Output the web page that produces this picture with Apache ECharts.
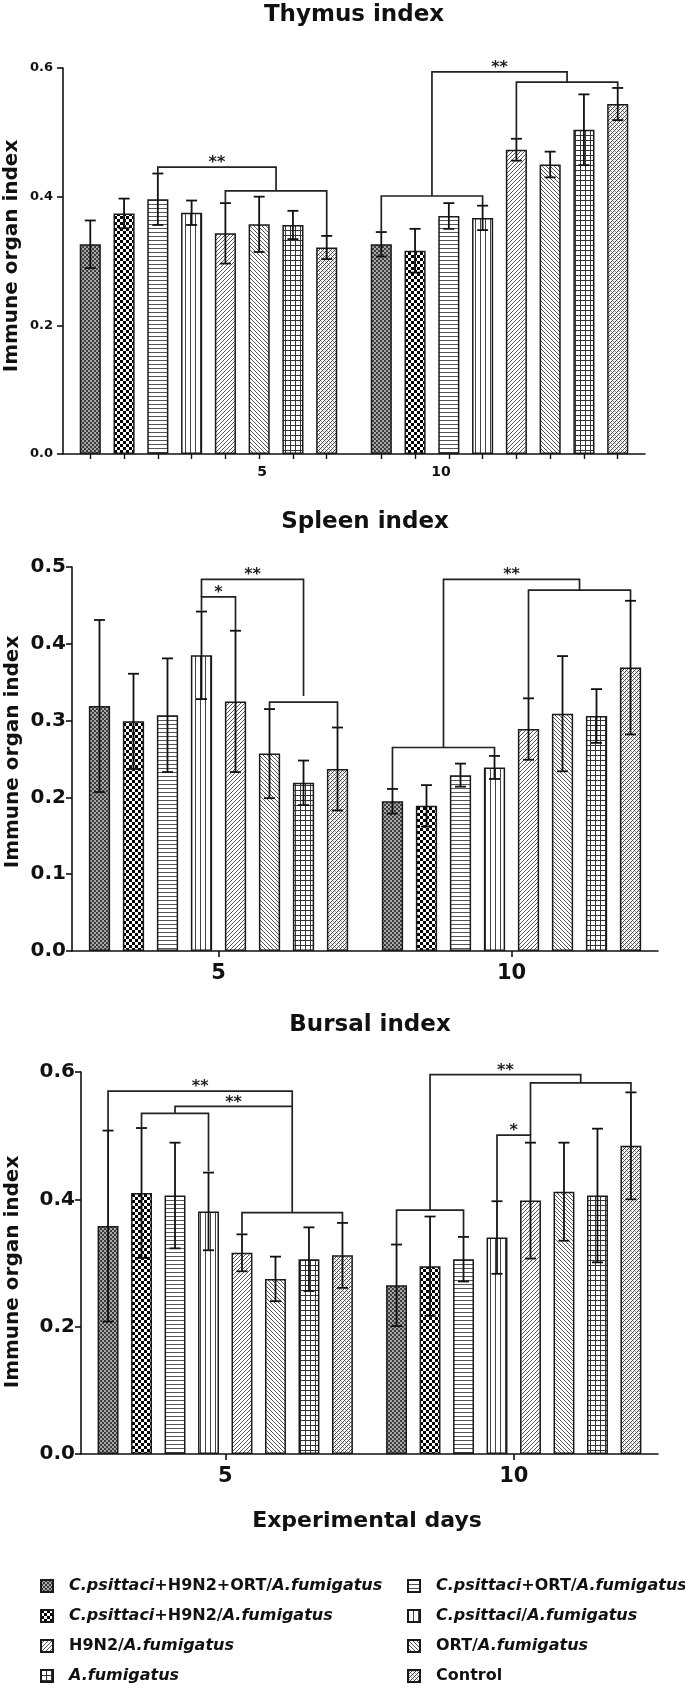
<!DOCTYPE html>
<html>
<head>
<meta charset="utf-8">
<script src="https://cdn.jsdelivr.net/npm/echarts@6/dist/echarts.min.js"></script>
<style>
html,body{margin:0;padding:0;background:#fff;}
#chart{width:685px;height:1689px;}
</style>
</head>
<body>
<div id="chart"></div>
<script>
// ---------------- DATA ----------------
const groupNames = [
  'C.psittaci+H9N2+ORT/A.fumigatus',
  'C.psittaci+H9N2/A.fumigatus',
  'C.psittaci+ORT/A.fumigatus',
  'C.psittaci/A.fumigatus',
  'H9N2/A.fumigatus',
  'ORT/A.fumigatus',
  'A.fumigatus',
  'Control'
];
const dayLabels = ['5', '10'];

const thymusMean5  = [0.326, 0.374, 0.396, 0.375, 0.343, 0.357, 0.356, 0.321];
const thymusSd5    = [0.037, 0.023, 0.040, 0.019, 0.047, 0.043, 0.022, 0.018];
const thymusMean10 = [0.326, 0.316, 0.370, 0.367, 0.473, 0.450, 0.504, 0.544];
const thymusSd10   = [0.019, 0.034, 0.020, 0.019, 0.017, 0.020, 0.055, 0.025];

const spleenMean5  = [0.319, 0.299, 0.307, 0.385, 0.325, 0.257, 0.219, 0.237];
const spleenSd5    = [0.112, 0.062, 0.074, 0.057, 0.092, 0.058, 0.029, 0.054];
const spleenMean10 = [0.195, 0.189, 0.229, 0.239, 0.289, 0.309, 0.306, 0.369];
const spleenSd10   = [0.016, 0.027, 0.015, 0.015, 0.040, 0.075, 0.035, 0.087];

const bursalMean5  = [0.358, 0.410, 0.406, 0.381, 0.316, 0.275, 0.306, 0.312];
const bursalSd5    = [0.150, 0.102, 0.083, 0.061, 0.029, 0.035, 0.050, 0.051];
const bursalMean10 = [0.265, 0.295, 0.306, 0.340, 0.398, 0.412, 0.406, 0.484];
const bursalSd10   = [0.064, 0.078, 0.035, 0.057, 0.091, 0.077, 0.105, 0.084];

// significance brackets: [fromBarSlot, toBarSlot, level, leftDropTo, rightDropTo, mark]
// bar slot = day index * 8 + group index (fractional = midpoint of a lower bracket)
const thymusBrackets = [
  [2, 5.5, 0.446, 0.435, 0.409, '**'],
  [4, 7, 0.409, 0.391, 0.340, ''],
  [8, 11, 0.401, 0.346, 0.386, ''],
  [9.5, 13.5, 0.594, 0.401, 0.578, '**'],
  [12, 15, 0.578, 0.490, 0.569, '']
];
const spleenBrackets = [
  [3, 4, 0.461, 0.443, 0.418, '*'],
  [3, 6, 0.484, 0.461, 0.332, '**'],
  [5, 7, 0.324, 0.315, 0.290, ''],
  [8, 11, 0.265, 0.212, 0.254, ''],
  [9.5, 13.5, 0.484, 0.265, 0.470, '**'],
  [12, 15, 0.470, 0.329, 0.457, '']
];
const bursalBrackets = [
  [0, 5.5, 0.570, 0.509, 0.546, '**'],
  [2, 5.5, 0.546, 0.535, 0.379, '**'],
  [1, 3, 0.535, 0.512, 0.444, ''],
  [4, 7, 0.379, 0.346, 0.364, ''],
  [8, 10, 0.383, 0.329, 0.341, ''],
  [9, 13.5, 0.596, 0.383, 0.583, '**'],
  [12, 15, 0.583, 0.501, 0.569, ''],
  [11, 12, 0.501, 0.397, 0.490, '*']
];

// ---------------- STYLE / LAYOUT ----------------
const FONT = '"DejaVu Sans", "Liberation Sans", Arial, sans-serif';
const BAR_CAT_GAP = 0.115, BAR_GAP = 0.6, N = 8;
const slotU = (1 - BAR_CAT_GAP) * (1 + BAR_GAP) / (N + (N - 1) * BAR_GAP);
function slotX(s) { const g = s < 8 ? 0 : 1; return g + 0.5 + (s - g * 8 - 3.5) * slotU; }

function tile(w, h, draw) {
  const c = document.createElement('canvas');
  c.width = w; c.height = h;
  const ctx = c.getContext('2d');
  ctx.fillStyle = '#fff'; ctx.fillRect(0, 0, w, h);
  draw(ctx);
  return { image: c, repeat: 'repeat' };
}
function px(ctx, x, y, col) { ctx.fillStyle = col; ctx.fillRect(x, y, 1, 1); }
const patterns = [
  tile(4, 4, ctx => { for (let y = 0; y < 4; y++) for (let x = 0; x < 4; x++) px(ctx, x, y, ((x >> 1) + (y >> 1)) % 2 ? '#a8a8a8' : '#3c3c3c'); }),
  tile(6, 6, ctx => { ctx.fillStyle = '#000'; ctx.fillRect(0, 0, 3, 3); ctx.fillRect(3, 3, 3, 3); }),
  tile(4, 4, ctx => { ctx.fillStyle = '#555'; ctx.fillRect(0, 0, 4, 1); }),
  tile(5, 5, ctx => { ctx.fillStyle = '#444'; ctx.fillRect(0, 0, 1, 5); }),
  tile(4, 4, ctx => { for (let i = 0; i < 4; i++) px(ctx, 3 - i, i, '#555'); }),
  tile(4, 4, ctx => { for (let i = 0; i < 4; i++) px(ctx, i, i, '#555'); }),
  tile(5, 5, ctx => { ctx.fillStyle = '#333'; ctx.fillRect(0, 0, 5, 1); ctx.fillRect(0, 0, 1, 5); }),
  tile(4, 4, ctx => { for (let y = 0; y < 4; y++) for (let x = 0; x < 4; x++) { if ((x + y) % 4 === 0) px(ctx, x, y, '#444'); else if ((x - y + 4) % 4 === 0) px(ctx, x, y, '#999'); } })
];

const charts = [
  { mean: [thymusMean5, thymusMean10], sd: [thymusSd5, thymusSd10], brackets: thymusBrackets,
    grid: { left: 63, top: 68, width: 582, height: 386 }, max: 0.6, interval: 0.2,
    title: 'Thymus index', titleX: 354, titleY: 15, nameX: 12, nameY: 256, tickFont: 13, small: true },
  { mean: [spleenMean5, spleenMean10], sd: [spleenSd5, spleenSd10], brackets: spleenBrackets,
    grid: { left: 72, top: 567, width: 586, height: 384 }, max: 0.5, interval: 0.1,
    title: 'Spleen index', titleX: 365, titleY: 522, nameX: 13, nameY: 752, tickFont: 20, small: false },
  { mean: [bursalMean5, bursalMean10], sd: [bursalSd5, bursalSd10], brackets: bursalBrackets,
    grid: { left: 81, top: 1072, width: 577, height: 382 }, max: 0.6, interval: 0.2,
    title: 'Bursal index', titleX: 370, titleY: 1025, nameX: 13, nameY: 1272, tickFont: 20, small: false }
];

const grids = [], xAxes = [], yAxes = [], series = [], graphics = [];
charts.forEach((ch, ci) => {
  grids.push(Object.assign({ containLabel: false }, ch.grid));
  const axisLine = { show: true, lineStyle: { color: '#111', width: 1.6 } };
  xAxes.push({
    type: 'category', gridIndex: ci, data: dayLabels, position: 'bottom',
    axisLine: axisLine,
    axisTick: ch.small ? { show: false } : { show: true, alignWithLabel: true, length: 6, lineStyle: { color: '#111', width: 1.6 } },
    axisLabel: ch.small ? { show: false } : { show: true, margin: 12, fontFamily: FONT, fontWeight: 'bold', fontSize: 21, color: '#111' },
    splitLine: { show: false }
  });
  const tickVals = [];
  for (let s = 0; s < 16; s++) tickVals.push(slotX(s));
  xAxes.push({
    type: 'value', gridIndex: ci, min: 0, max: 2, show: !!ch.small, position: 'bottom', offset: 0,
    axisLine: { show: false },
    axisTick: { show: true, customValues: tickVals, length: 5, lineStyle: { color: '#111', width: 1.4 } },
    axisLabel: { show: true, customValues: [0.684, 1.299], formatter: v => (v < 1 ? dayLabels[0] : dayLabels[1]),
      margin: 11, fontFamily: FONT, fontWeight: 'bold', fontSize: 14, color: '#111' },
    splitLine: { show: false }
  });
  yAxes.push({
    type: 'value', gridIndex: ci, min: 0, max: ch.max, interval: ch.interval,
    axisLine: axisLine,
    axisTick: { show: true, length: 6, lineStyle: { color: '#111', width: 1.6 } },
    axisLabel: { margin: ch.small ? 10 : 6, fontFamily: FONT, fontWeight: 'bold', fontSize: ch.tickFont, color: '#111',
      formatter: v => v.toFixed(1) },
    splitLine: { show: false }
  });
  for (let k = 0; k < N; k++) {
    series.push({
      type: 'bar', name: groupNames[k], xAxisIndex: ci * 2, yAxisIndex: ci,
      data: [ch.mean[0][k], ch.mean[1][k]],
      barGap: (BAR_GAP * 100) + '%', barCategoryGap: (BAR_CAT_GAP * 100) + '%',
      itemStyle: { color: patterns[k], borderColor: '#1a1a1a', borderWidth: 1.5 },
      silent: true, z: 2
    });
  }
  const errData = [];
  for (let g = 0; g < 2; g++) for (let k = 0; k < N; k++) errData.push([slotX(g * 8 + k), ch.mean[g][k], ch.sd[g][k]]);
  series.push({
    type: 'custom', xAxisIndex: ci * 2 + 1, yAxisIndex: ci, data: errData, z: 5, silent: true,
    encode: { x: 0, y: 1 },
    renderItem: (params, api) => {
      const x = api.value(0), m = api.value(1), s = api.value(2);
      const t = api.coord([x, m + s]), b = api.coord([x, m - s]);
      const cap = 5.5, st = { stroke: '#111', lineWidth: 1.8 };
      return { type: 'group', children: [
        { type: 'line', shape: { x1: t[0], y1: t[1], x2: b[0], y2: b[1] }, style: st },
        { type: 'line', shape: { x1: t[0] - cap, y1: t[1], x2: t[0] + cap, y2: t[1] }, style: st },
        { type: 'line', shape: { x1: b[0] - cap, y1: b[1], x2: b[0] + cap, y2: b[1] }, style: st }
      ] };
    }
  });
  const br = ch.brackets;
  series.push({
    type: 'custom', xAxisIndex: ci * 2 + 1, yAxisIndex: ci, z: 6, silent: true, clip: false,
    data: br.map(b => [slotX(b[0]), b[2]]), encode: { x: 0, y: 1 },
    renderItem: (params, api) => {
      const b = br[params.dataIndex];
      const x1 = slotX(b[0]), x2 = slotX(b[1]);
      const p1 = api.coord([x1, b[3]]), p1t = api.coord([x1, b[2]]), p2t = api.coord([x2, b[2]]), p2 = api.coord([x2, b[4]]);
      const children = [{ type: 'polyline', shape: { points: [p1, p1t, p2t, p2] }, style: { stroke: '#222', lineWidth: 1.7, fill: null } }];
      if (b[5]) children.push({ type: 'text', x: (p1t[0] + p2t[0]) / 2, y: p1t[1] - 4,
        style: { text: b[5], fill: '#222', font: 'bold 16px ' + FONT, align: 'center', verticalAlign: 'middle' } });
      return { type: 'group', children: children };
    }
  });
  graphics.push({ type: 'text', x: ch.titleX, y: ch.titleY, style: { text: ch.title, fill: '#111',
    font: 'bold 23px ' + FONT, align: 'center', verticalAlign: 'middle', textAlign: 'center', textVerticalAlign: 'middle' } });
  graphics.push({ type: 'text', x: ch.nameX, y: ch.nameY, rotation: Math.PI / 2, style: { text: 'Immune organ index', fill: '#111',
    font: 'bold 20px ' + FONT, align: 'center', verticalAlign: 'middle', textAlign: 'center', textVerticalAlign: 'middle' } });
});
graphics.push({ type: 'text', x: 367, y: 1521, style: { text: 'Experimental days', fill: '#111',
  font: 'bold 22px ' + FONT, align: 'center', verticalAlign: 'middle', textAlign: 'center', textVerticalAlign: 'middle' } });

function richName(name) {
  return name.split(/(C\.psittaci|A\.fumigatus)/).filter(Boolean)
    .map(p => (p === 'C.psittaci' || p === 'A.fumigatus') ? '{i|' + p + '}' : '{n|' + p + '}').join('');
}
const rich = {
  i: { fontFamily: FONT, fontWeight: 'bold', fontStyle: 'italic', fontSize: 16, lineHeight: 16, color: '#111' },
  n: { fontFamily: FONT, fontWeight: 'bold', fontSize: 16, lineHeight: 16, color: '#111' }
};
const legendBase = { orient: 'vertical', top: 1578, height: 110, itemWidth: 12, itemHeight: 12, itemGap: 14, icon: 'rect',
  padding: 0, selectedMode: false, formatter: richName,
  textStyle: { rich: rich, fontSize: 16, lineHeight: 16, padding: [0, 0, 0, 11] } };

const option = {
  animation: false,
  backgroundColor: '#fff',
  grid: grids, xAxis: xAxes, yAxis: yAxes, series: series,
  legend: [
    Object.assign({ left: 40, data: [groupNames[0], groupNames[1], groupNames[4], groupNames[6]] }, legendBase),
    Object.assign({ left: 407, data: [groupNames[2], groupNames[3], groupNames[5], groupNames[7]] }, legendBase)
  ],
  graphic: graphics
};
const chart = echarts.init(document.getElementById('chart'), null, { renderer: 'canvas' });
chart.setOption(option);
</script>
</body>
</html>
